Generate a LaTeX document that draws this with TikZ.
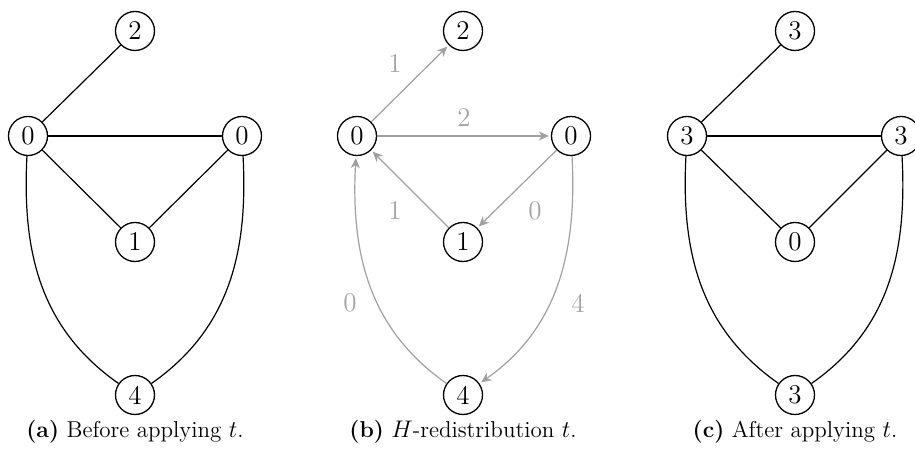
\documentclass[tikz,border=0pt]{standalone}
\usetikzlibrary{arrows.meta}
\definecolor{edgegray}{RGB}{160,160,160}
\definecolor{labgray}{RGB}{165,165,165}
\begin{document}
\begin{tikzpicture}[x=0.5pt,y=-0.5pt,
  vtx/.style={circle,draw,line width=0.65pt,minimum size=19.5pt,inner sep=0pt,font=\fontsize{13.5}{15}\selectfont},
  edg/.style={line width=0.6pt},
  arr/.style={edgegray,line width=0.6pt,-{Stealth[length=5pt,width=4.5pt,inset=1.5pt]},shorten >=1pt},
  lab/.style={labgray,font=\fontsize{13.5}{15}\selectfont},
  captxt/.style={font=\fontsize{11.5}{13}\selectfont}]
\useasboundingbox (0,0) rectangle (915,453);
% panel a
\node[vtx] (aT) at (135,31) {2};
\node[vtx] (aL) at (28,136) {0};
\node[vtx] (aR) at (242,136) {0};
\node[vtx] (aM) at (135,242) {1};
\node[vtx] (aB) at (135,395) {4};
\draw[edg] (aL) -- (aT);
\draw[edg] (aL) -- (aR);
\draw[edg] (aL) -- (aM);
\draw[edg] (aR) -- (aM);
\draw[edg] (aL) to[out=-93,in=145] (aB);
\draw[edg] (aR) to[out=-87,in=35] (aB);
\node[captxt] (capa) at (135,432) {\textbf{(a)} Before applying $t$.};
% panel b
\node[vtx] (bT) at (463,31) {2};
\node[vtx] (bL) at (357,136) {0};
\node[vtx] (bR) at (571,136) {0};
\node[vtx] (bM) at (463,242) {1};
\node[vtx] (bB) at (463,395) {4};
\draw[arr] (bL) -- (bT);
\draw[arr] (bL) -- (bR);
\draw[arr] (bM) -- (bL);
\draw[arr] (bR) -- (bM);
\draw[arr] (bB) to[out=145,in=-93] (bL);
\draw[arr] (bR) to[out=-87,in=35] (bB);
\node[lab] (l1) at (395,64) {1};
\node[lab] (l2) at (464,118) {2};
\node[lab] (l3) at (395,211) {1};
\node[lab] (l4) at (535,211) {0};
\node[lab] (l5) at (350,303) {0};
\node[lab] (l6) at (578,303) {4};
\node[captxt] (capb) at (463,432) {\textbf{(b)} $H$-redistribution $t$.};
% panel c
\node[vtx] (cT) at (795,31) {3};
\node[vtx] (cL) at (687,136) {3};
\node[vtx] (cR) at (901,136) {3};
\node[vtx] (cM) at (795,242) {0};
\node[vtx] (cB) at (795,395) {3};
\draw[edg] (cL) -- (cT);
\draw[edg] (cL) -- (cR);
\draw[edg] (cL) -- (cM);
\draw[edg] (cR) -- (cM);
\draw[edg] (cL) to[out=-93,in=145] (cB);
\draw[edg] (cR) to[out=-87,in=35] (cB);
\node[captxt] (capc) at (795,432) {\textbf{(c)} After applying $t$.};
\end{tikzpicture}
\end{document}
